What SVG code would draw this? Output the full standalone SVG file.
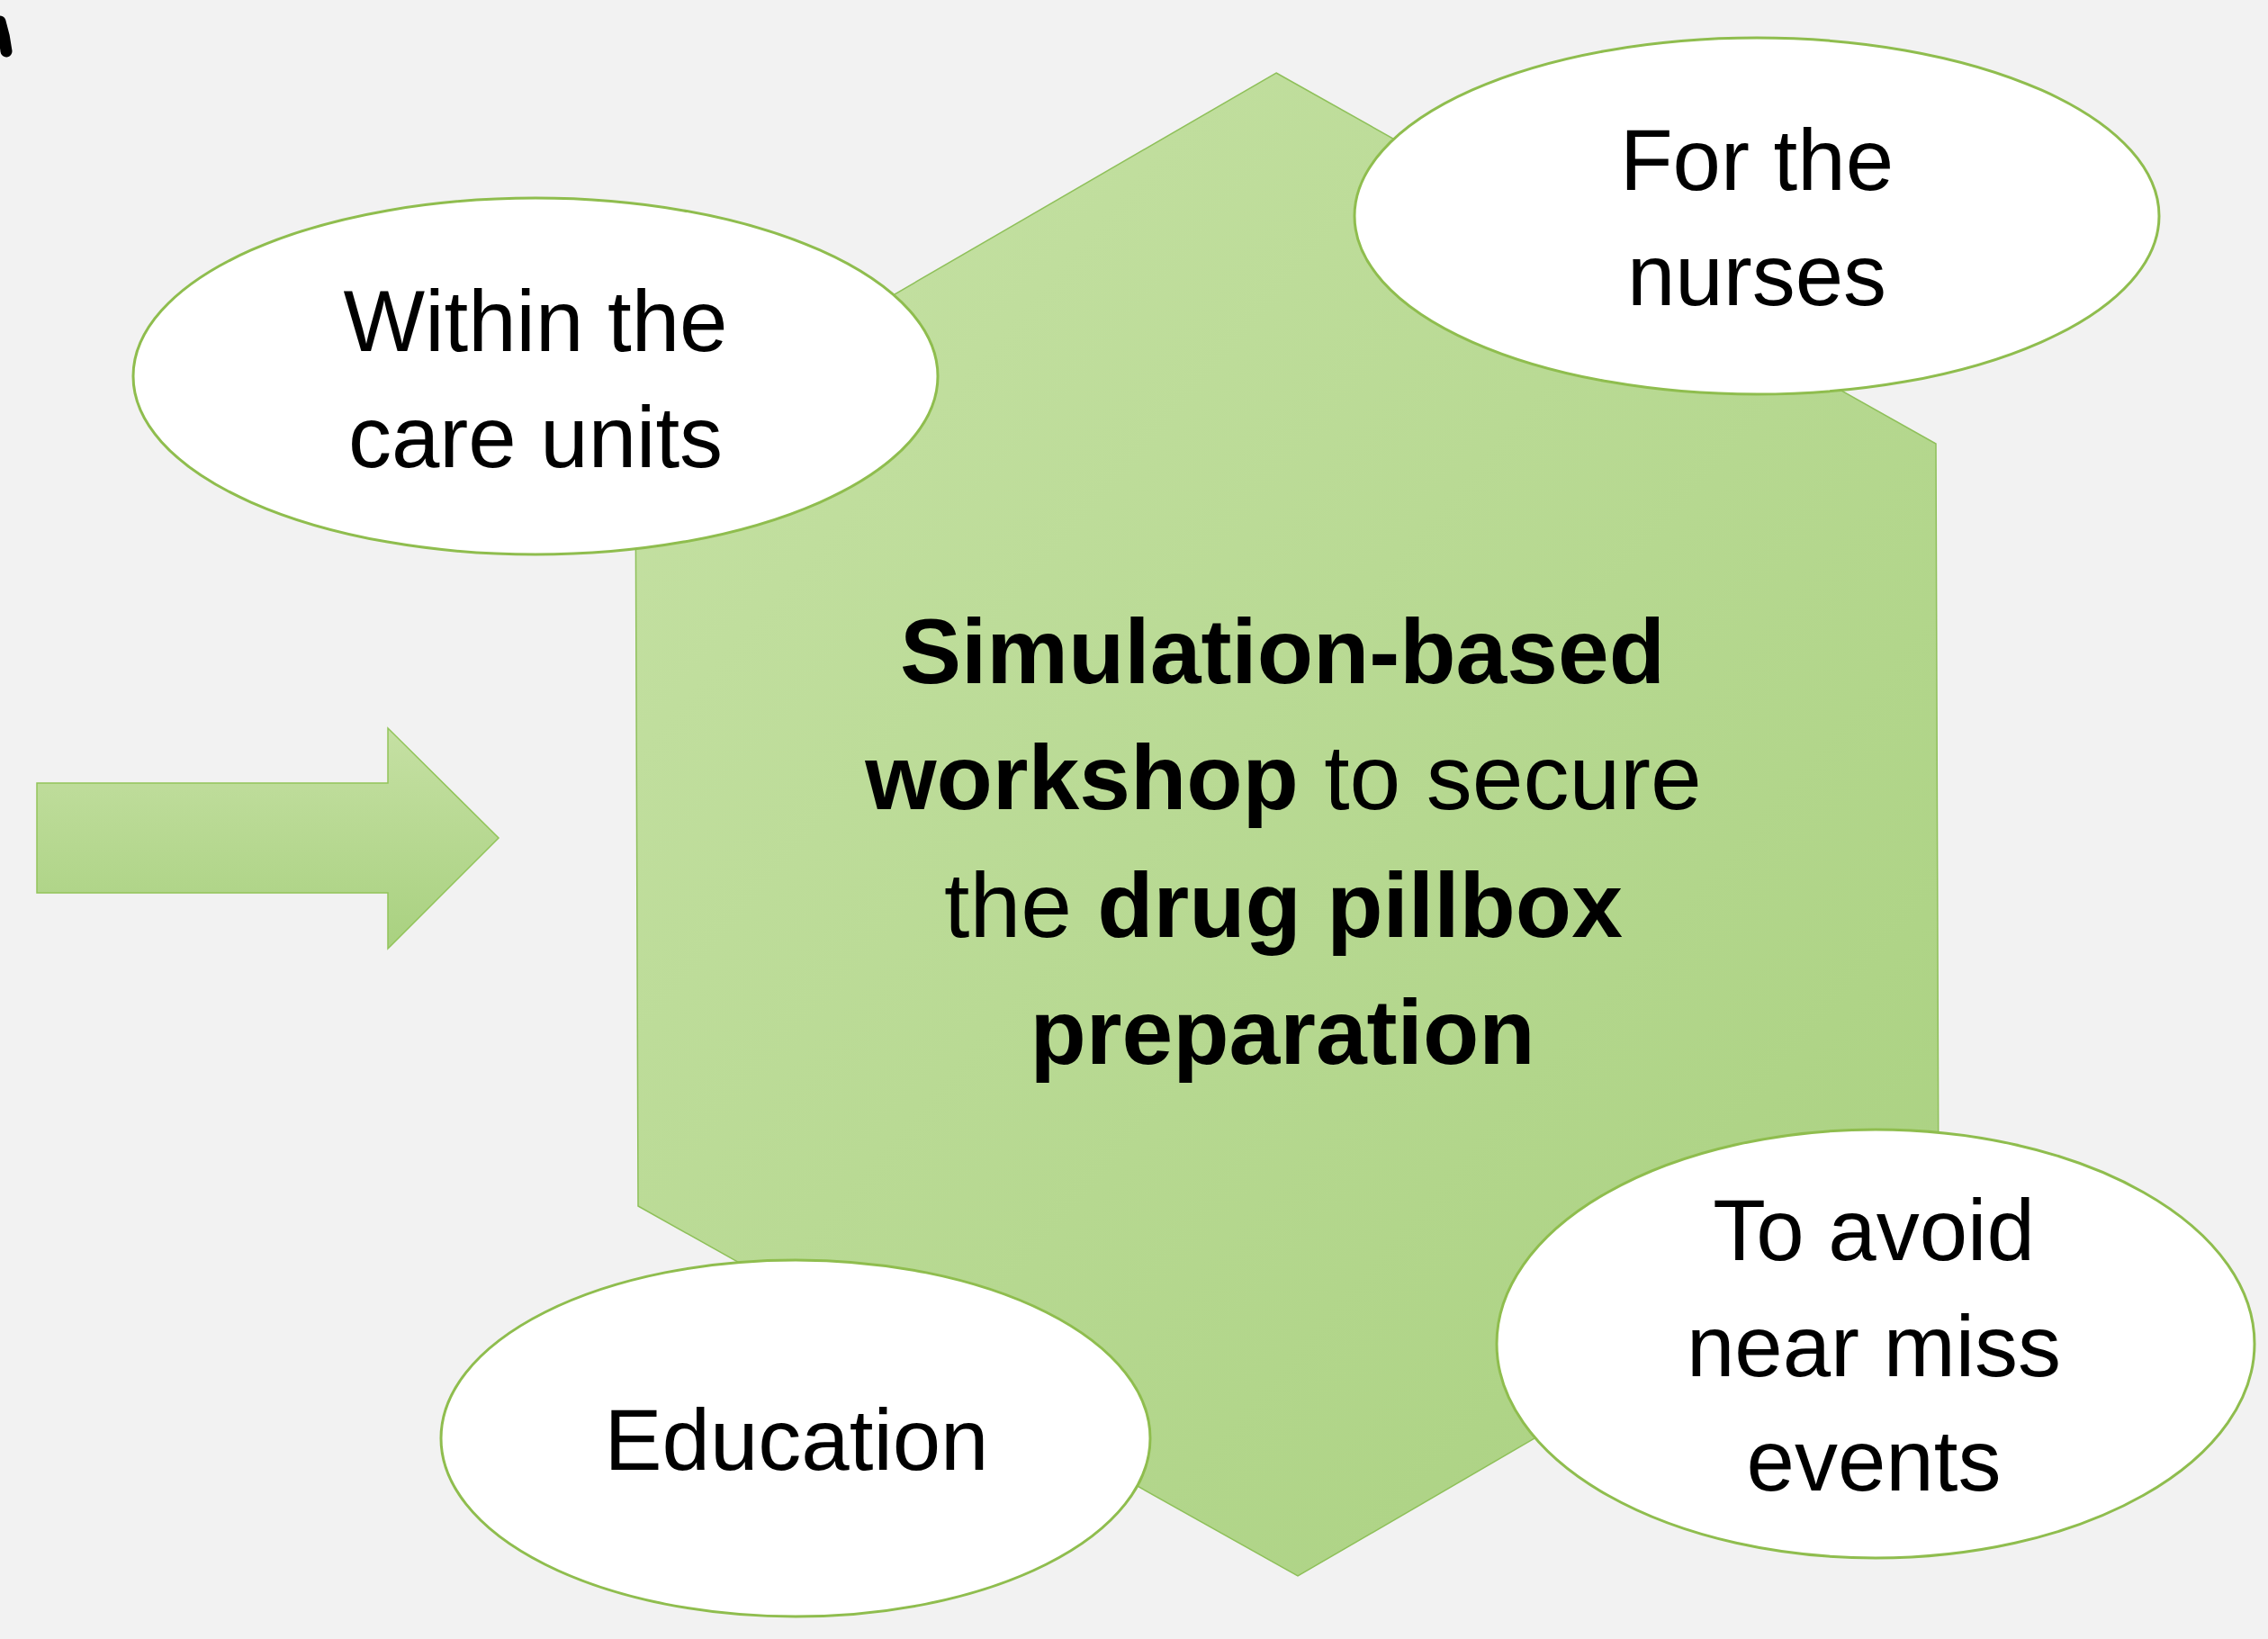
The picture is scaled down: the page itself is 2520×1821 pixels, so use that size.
<svg xmlns="http://www.w3.org/2000/svg" width="2520" height="1821" viewBox="0 0 2520 1821">
  <defs>
    <linearGradient id="hexGrad" x1="0" y1="0" x2="1" y2="1">
      <stop offset="0" stop-color="#c7e2a6"/>
      <stop offset="1" stop-color="#a8d07e"/>
    </linearGradient>
    <linearGradient id="arrowGrad" x1="0" y1="0" x2="0" y2="1">
      <stop offset="0" stop-color="#c5e0a3"/>
      <stop offset="1" stop-color="#a9d180"/>
    </linearGradient>
    <style>
      .bubble { fill: #ffffff; stroke: #8fbd4e; stroke-width: 3; }
      .lbl { font-family: "Liberation Sans", Arial, sans-serif; font-size: 96px; fill: #000000; text-anchor: middle; }
      .main { font-family: "Liberation Sans", Arial, sans-serif; font-size: 102px; fill: #000000; text-anchor: middle; }
      .b { font-weight: bold; }
    </style>
  </defs>
  <rect x="0" y="0" width="2520" height="1821" fill="#f2f2f2"/>
  <path d="M0 24 Q5 40 7 57" fill="none" stroke="#000000" stroke-width="13" stroke-linecap="round"/>

  <g id="connectors">
    <polygon points="41,870 431,870 431,809 554,931 431,1054 431,992 41,992" fill="url(#arrowGrad)" stroke="#92c45a" stroke-width="1.5"/>
  </g>

  <g id="hexagon">
    <polygon points="1418,81 2151,493 2154,1337 1442,1751 709,1340 706,494" fill="url(#hexGrad)" stroke="#8fc05a" stroke-width="1.5"/>
    <text class="main" x="1425" y="759"><tspan class="b">Simulation-based</tspan></text>
    <text class="main" x="1426" y="899"><tspan class="b">workshop</tspan> to secure</text>
    <text class="main" x="1426" y="1041">the <tspan class="b">drug pillbox</tspan></text>
    <text class="main" x="1425" y="1182"><tspan class="b">preparation</tspan></text>
  </g>

  <g id="node-care-units">
    <ellipse class="bubble" cx="595" cy="418" rx="447" ry="198"/>
    <text class="lbl" x="595" y="390">Within the</text>
    <text class="lbl" x="595" y="519">care units</text>
  </g>

  <g id="node-nurses">
    <ellipse class="bubble" cx="1952" cy="240" rx="447" ry="198"/>
    <text class="lbl" x="1952" y="211">For the</text>
    <text class="lbl" x="1952" y="339">nurses</text>
  </g>

  <g id="node-education">
    <ellipse class="bubble" cx="884" cy="1598" rx="394" ry="198"/>
    <text class="lbl" x="885" y="1633">Education</text>
  </g>

  <g id="node-near-miss">
    <ellipse class="bubble" cx="2084" cy="1493" rx="421" ry="238"/>
    <text class="lbl" x="2082" y="1400">To avoid</text>
    <text class="lbl" x="2082" y="1529">near miss</text>
    <text class="lbl" x="2082" y="1656">events</text>
  </g>
</svg>
